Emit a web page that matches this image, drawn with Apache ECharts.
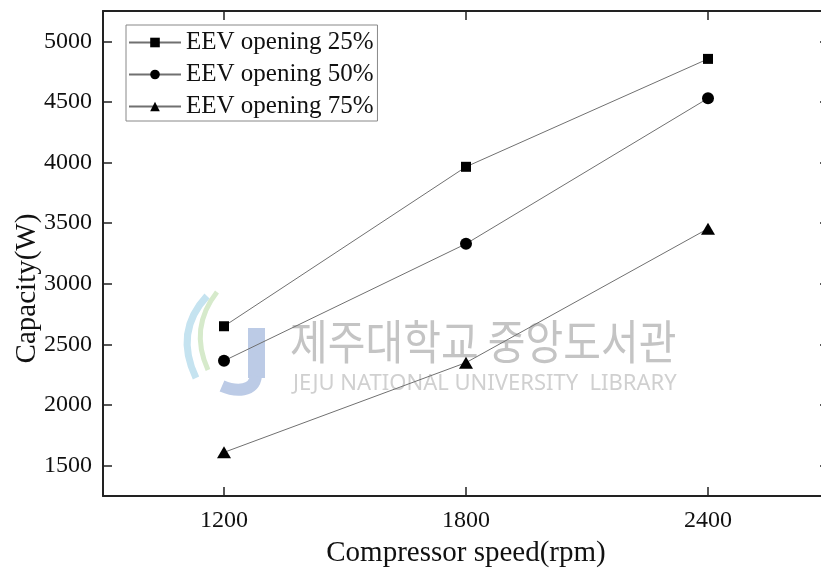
<!DOCTYPE html>
<html>
<head>
<meta charset="utf-8">
<script src="https://cdn.jsdelivr.net/npm/echarts@6/dist/echarts.min.js"></script>
<style>html,body{margin:0;padding:0;background:#fff;}#c{width:821px;height:571px;}</style>
</head>
<body>
<div id="c"></div>
<script>
const speeds = [1200, 1800, 2400];
const eev25 = [2650, 3965, 4855];
const eev50 = [2365, 3330, 4530];
const eev75 = [1610, 2350, 3455];
const seriesNames = ['EEV opening 25%', 'EEV opening 50%', 'EEV opening 75%'];
const xTicks = [1200, 1800, 2400];
const yTicks = [1500, 2000, 2500, 3000, 3500, 4000, 4500, 5000];
const xTitle = 'Compressor speed(rpm)';
const yTitle = 'Capacity(W)';

const FONT = '"Liberation Serif", "Times New Roman", serif';
const axisLineStyle = { color: '#222', width: 2 };
const tickStyle = { color: '#222', width: 1.5 };
const plain = v => String(v);

function pairs(vals) { return speeds.map((s, i) => [s, vals[i]]); }

const chart = echarts.init(document.getElementById('c'), null, { renderer: 'canvas' });
const mk = (name, vals, symbol, size) => ({
  name: name, type: 'line', data: pairs(vals), xAxisIndex: 0, yAxisIndex: 0,
  symbol: symbol, symbolSize: size, showSymbol: true,
  itemStyle: { color: '#000', borderWidth: 0 },
  lineStyle: { color: '#707070', width: 1 },
  z: 5, animation: false
});

chart.setOption({
  animation: false,
  grid: { left: 103, top: 11, width: 726, height: 485, containLabel: false, outerBoundsMode: 'none' },
  legend: {
    data: seriesNames,
    orient: 'vertical', left: 126, top: 25,
    padding: [5, 4, 2, 2],
    itemWidth: 52, itemHeight: 12, itemGap: 7,
    borderColor: '#888', borderWidth: 1, backgroundColor: '#fff',
    textStyle: { fontFamily: FONT, fontSize: 25, color: '#111', lineHeight: 24 }
  },
  xAxis: [{
    type: 'value', min: 900, max: 2700, position: 'bottom',
    axisLine: { show: true, onZero: false, lineStyle: axisLineStyle },
    axisTick: { show: true, inside: true, length: 9, customValues: xTicks, lineStyle: tickStyle },
    axisLabel: { customValues: xTicks, formatter: plain, fontFamily: FONT, fontSize: 24, color: '#111', margin: 13 },
    splitLine: { show: false },
    name: xTitle, nameLocation: 'middle', nameGap: 43, nameMoveOverlap: false,
    nameTextStyle: { fontFamily: FONT, fontSize: 29, color: '#111' }
  }, {
    type: 'value', min: 900, max: 2700, position: 'top',
    axisLine: { show: true, onZero: false, lineStyle: axisLineStyle },
    axisTick: { show: true, inside: true, length: 9, customValues: xTicks, lineStyle: tickStyle },
    axisLabel: { show: false },
    splitLine: { show: false }
  }],
  yAxis: [{
    type: 'value', min: 1250, max: 5250, position: 'left',
    axisLine: { show: true, onZero: false, lineStyle: axisLineStyle },
    axisTick: { show: true, inside: true, length: 9, customValues: yTicks, lineStyle: tickStyle },
    axisLabel: { customValues: yTicks, formatter: plain, fontFamily: FONT, fontSize: 24, color: '#111', margin: 11 },
    splitLine: { show: false },
    name: yTitle, nameLocation: 'middle', nameGap: 61, nameRotate: 90, nameMoveOverlap: false,
    nameTextStyle: { fontFamily: FONT, fontSize: 29, color: '#111', padding: [0, 70, 0, 0] }
  }, {
    type: 'value', min: 1250, max: 5250, position: 'right',
    axisLine: { show: true, onZero: false, lineStyle: axisLineStyle },
    axisTick: { show: true, inside: true, length: 9, customValues: yTicks, lineStyle: tickStyle },
    axisLabel: { show: false },
    splitLine: { show: false }
  }],
  graphic: [
    { type: 'bezierCurve', z: -10, silent: true, shape: { x1: 207, y1: 296, x2: 196, y2: 378, cpx1: 180, cpy1: 325, cpx2: 185, cpy2: 355 }, style: { stroke: '#c5e3f0', lineWidth: 7, fill: null } },
    { type: 'bezierCurve', z: -10, silent: true, shape: { x1: 217, y1: 292, x2: 208, y2: 370, cpx1: 195, cpy1: 320, cpx2: 198, cpy2: 348 }, style: { stroke: '#d6eacb', lineWidth: 5, fill: null } },
    { type: 'rect', z: -10, silent: true, shape: { x: 248, y: 328, width: 17, height: 50 }, style: { fill: '#bccbe6' } },
    { type: 'bezierCurve', z: -10, silent: true, shape: { x1: 256, y1: 376, x2: 222, y2: 386, cpx1: 254, cpy1: 392, cpx2: 236, cpy2: 392 }, style: { stroke: '#bccbe6', lineWidth: 12, fill: null } },
    { type: 'text', z: -10, silent: true, left: 290, top: 318,
      style: { text: '제주대학교 중앙도서관', font: '400 41px "Noto Sans CJK KR"', fill: '#c4c4c4' }, scaleY: 1.15 },
    { type: 'text', z: -10, silent: true, left: 293, top: 373,
      style: { text: 'JEJU NATIONAL UNIVERSITY  LIBRARY', font: '400 22px "Noto Sans"', fill: '#d0d0d0' } }
  ],
  series: [
    mk(seriesNames[0], eev25, 'rect', 10),
    mk(seriesNames[1], eev50, 'circle', 12),
    mk(seriesNames[2], eev75, 'triangle', [14, 12])
  ]
});
</script>
</body>
</html>
